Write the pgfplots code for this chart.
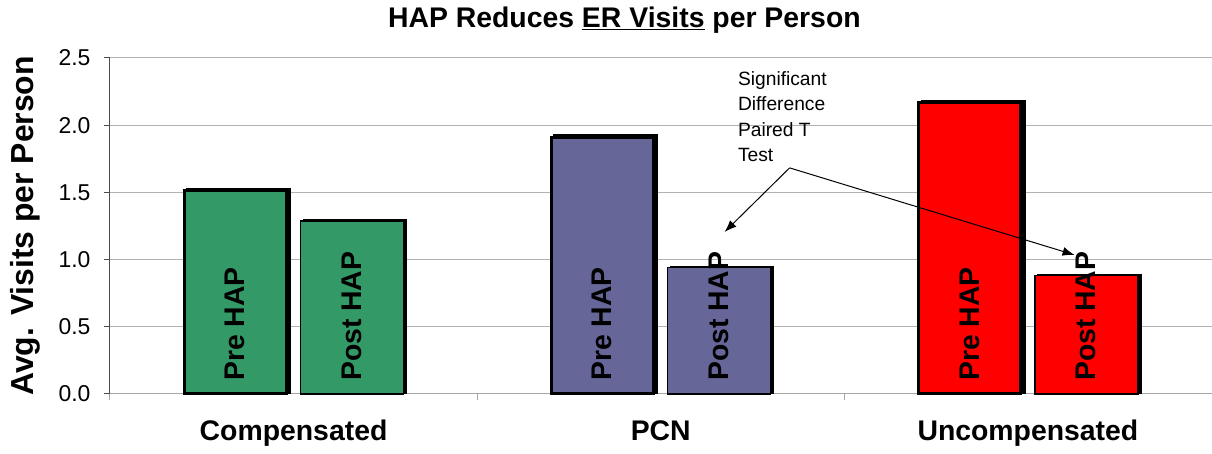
\documentclass[border=0pt]{standalone}
\usepackage{fontspec}
\setmainfont{Liberation Sans}
\usepackage{pgfplots}
\pgfplotsset{compat=1.18}
\usetikzlibrary{calc,arrows.meta}
\definecolor{cgreen}{HTML}{339966}
\definecolor{cpurple}{HTML}{666699}
\definecolor{cred}{HTML}{FF0000}
\tikzset{barlab/.style={rotate=90, anchor=west, inner sep=0pt, xshift=-2bp, font=\bfseries\fontsize{28.5}{28.5}\selectfont}}
\begin{document}
\begin{tikzpicture}
\begin{axis}[name=ax, scale only axis, width=1102bp, height=336bp,
  xmin=-0.5, xmax=2.5, ymin=0, ymax=2.5,
  axis x line*=bottom, axis y line*=left,
  axis line style={-},
  x axis line style={draw=gray!70, line width=1bp},
  y axis line style={draw=black!70, line width=1bp},
  ytick={0,0.5,1,1.5,2,2.5},
  /pgf/number format/fixed, /pgf/number format/fixed zerofill, /pgf/number format/precision=1, /pgf/number format/assume math mode=true,
  ticklabel style={font=\fontsize{23}{23}\selectfont},
  y tick label style={xshift=-10bp},
  ymajorgrids, grid style={draw=gray!60, line width=1bp},
  tick align=outside, major tick length=6bp,
  ytick style={draw=black!70, line width=1bp},
  xtick={0,1,2}, xticklabels={Compensated,PCN,Uncompensated},
  x tick label style={font=\bfseries\fontsize{28.5}{28.5}\selectfont, yshift=-17bp},
  major x tick style={draw=none},
  extra x ticks={-0.5,0.5,1.5}, extra x tick labels={},
  extra x tick style={grid=none, major x tick style={draw=gray!70, line width=1bp}},
  ylabel={Avg. Visits per Person},
  ylabel style={font=\bfseries\fontsize{32}{32}\selectfont, at={(axis description cs:-0.0771,0.5)}, anchor=center},
  title={HAP Reduces \underline{ER Visits} per Person},
  title style={font=\bfseries\fontsize{28.5}{28.5}\selectfont, at={(axis description cs:0.467,1.095)}, anchor=center},
  clip=false,
]
% shadows
\addplot[ybar, bar width=102bp, fill=black, draw=black, line width=3bp, xshift=3.5bp, yshift=1.5bp] coordinates {(-0.159,1.51) (0.841,1.91) (1.841,2.165)};
\addplot[ybar, bar width=103bp, fill=black, draw=black, line width=1.5bp, xshift=3bp, yshift=1bp] coordinates {(0.159,1.287) (1.159,0.94) (2.159,0.88)};
% Compensated
\addplot[ybar, bar width=102bp, fill=cgreen, draw=black, line width=3bp] coordinates {(-0.159,1.51)};
\addplot[ybar, bar width=103bp, fill=cgreen, draw=black, line width=1.5bp] coordinates {(0.159,1.287)};
% PCN
\addplot[ybar, bar width=102bp, fill=cpurple, draw=black, line width=3bp] coordinates {(0.841,1.91)};
\addplot[ybar, bar width=103bp, fill=cpurple, draw=black, line width=1.5bp] coordinates {(1.159,0.94)};
% Uncompensated
\addplot[ybar, bar width=102bp, fill=cred, draw=black, line width=3bp] coordinates {(1.841,2.165)};
\addplot[ybar, bar width=103bp, fill=cred, draw=black, line width=1.5bp] coordinates {(2.159,0.88)};
% bar labels
\node[barlab] at (axis cs:-0.159,0.11) {Pre HAP};
\node[barlab] at (axis cs:0.159,0.11) {Post HAP};
\node[barlab] at (axis cs:0.841,0.11) {Pre HAP};
\node[barlab] at (axis cs:1.159,0.11) {Post HAP};
\node[barlab] at (axis cs:1.841,0.11) {Pre HAP};
\node[barlab] at (axis cs:2.159,0.11) {Post HAP};
% annotation
\node[anchor=north west, align=left, inner sep=0pt, font=\fontsize{19.3}{25.5}\selectfont] at (axis cs:1.21,2.40) {Significant\\Difference\\Paired T\\Test};
\draw[-{Latex[length=12bp,width=9bp]}, line width=1bp] (axis cs:1.351,1.682) -- (axis cs:1.174,1.205);
\draw[-{Latex[length=12bp,width=9bp]}, line width=1bp] (axis cs:1.351,1.682) -- (axis cs:2.127,1.034);
\end{axis}
\path ($(ax.south west)+(-110bp,-60bp)$) rectangle ($(ax.north east)+(0bp,58bp)$);
\end{tikzpicture}
\end{document}
